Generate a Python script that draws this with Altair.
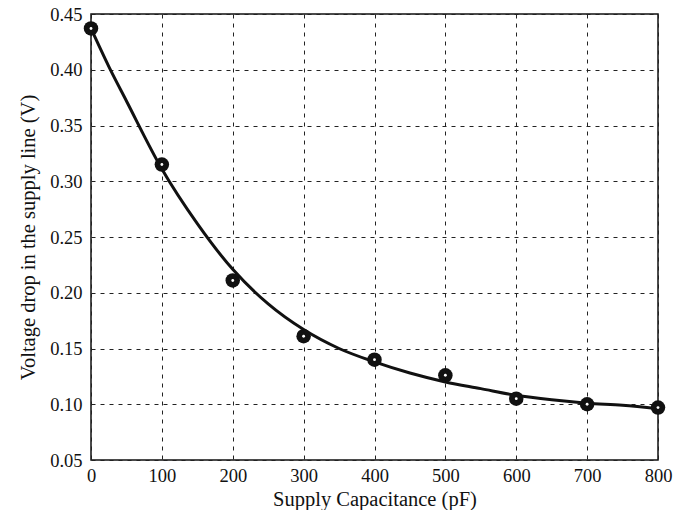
import altair as alt
import pandas as pd

# Measured points
cap_pts = [0, 100, 200, 300, 400, 500, 600, 700, 800]
volt_pts = [0.437, 0.315, 0.211, 0.161, 0.140, 0.126, 0.105, 0.100, 0.097]

# Fitted curve
cap_fit = [0, 25, 50, 100, 150, 200, 250, 300, 350, 400, 450, 500, 550, 600, 650, 700, 750, 800]
volt_fit = [0.437, 0.403, 0.372, 0.311, 0.262, 0.221, 0.190, 0.167, 0.150, 0.138, 0.128, 0.120, 0.114, 0.108, 0.104, 0.101, 0.099, 0.096]

pts = pd.DataFrame({"cap": cap_pts, "volt": volt_pts})
fit = pd.DataFrame({"cap": cap_fit, "volt": volt_fit})

FONT = "Liberation Serif"

xs = alt.Scale(domain=[0, 800], nice=False, zero=False)
ys = alt.Scale(domain=[0.05, 0.45], nice=False, zero=False)

xax = alt.Axis(values=list(range(0, 801, 100)), title="Supply Capacitance (pF)",
               ticks=False, labelPadding=6, titlePadding=5, format="d", labelFlush=False)
yax = alt.Axis(values=[0.05, 0.10, 0.15, 0.20, 0.25, 0.30, 0.35, 0.40, 0.45],
               title="Voltage drop in the supply line (V)", format=".2f",
               ticks=False, labelPadding=9, titlePadding=11, labelFlush=False)

line = alt.Chart(fit).mark_line(color="#111111", strokeWidth=3, interpolate="monotone").encode(
    x=alt.X("cap:Q", scale=xs, axis=xax),
    y=alt.Y("volt:Q", scale=ys, axis=yax),
)

outer = alt.Chart(pts).mark_point(filled=True, color="#111111", size=210, opacity=1, shape="circle").encode(
    x=alt.X("cap:Q", scale=xs), y=alt.Y("volt:Q", scale=ys)
)
inner = alt.Chart(pts).mark_point(filled=True, color="white", size=8, opacity=1, shape="circle").encode(
    x=alt.X("cap:Q", scale=xs), y=alt.Y("volt:Q", scale=ys)
)

chart = alt.layer(line, outer, inner).properties(
    width=567, height=446,
    autosize=alt.AutoSizeParams(type="none"),
    padding={"left": 91, "top": 14, "right": 28, "bottom": 50},
    background="white",
).configure_view(
    stroke="#111111", strokeWidth=1.5
).configure_axis(
    grid=True, gridColor="#222222", gridDash=[4, 5], gridWidth=1,
    domain=False,
    labelFont=FONT, titleFont=FONT, labelFontSize=18.5, titleFontSize=20.5,
    labelColor="#111111", titleColor="#111111", titleFontWeight="normal",
)

chart.save("out.html", embed_options={"renderer": "svg", "actions": False})
